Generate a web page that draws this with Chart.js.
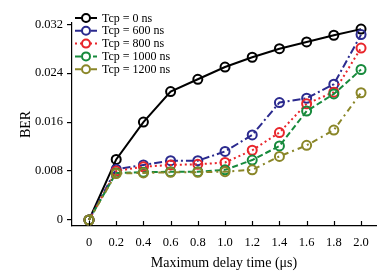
<!DOCTYPE html>
<html>
<head>
<meta charset="utf-8">
<script src="https://cdn.jsdelivr.net/npm/chart.js@4/dist/chart.umd.min.js"></script>
<style>
html,body{margin:0;padding:0;background:#fff;}
#wrap{width:390px;height:276px;position:relative;}
</style>
</head>
<body>
<div id="wrap"><canvas id="c" width="390" height="276"></canvas></div>
<script>
const delays = [0, 0.2, 0.4, 0.6, 0.8, 1.0, 1.2, 1.4, 1.6, 1.8, 2.0];
const berTcp0    = [0, 0.0099, 0.0160, 0.0210, 0.0230, 0.0250, 0.0266, 0.0280, 0.0291, 0.0302, 0.0312];
const berTcp600  = [0, 0.0083, 0.0090, 0.0097, 0.0097, 0.0112, 0.0139, 0.0192, 0.0199, 0.0222, 0.0303];
const berTcp800  = [0, 0.0080, 0.0087, 0.0090, 0.0091, 0.0094, 0.0114, 0.0143, 0.0190, 0.0209, 0.0281];
const berTcp1000 = [0, 0.0077, 0.0078, 0.0079, 0.0079, 0.0082, 0.0098, 0.0121, 0.0178, 0.0206, 0.0246];
const berTcp1200 = [0, 0.0076, 0.0077, 0.0078, 0.0078, 0.0079, 0.0082, 0.0104, 0.0122, 0.0147, 0.0208];
const seriesLabels = ['Tcp = 0 ns', 'Tcp = 600 ns', 'Tcp = 800 ns', 'Tcp = 1000 ns', 'Tcp = 1200 ns'];
const xTickValues = [0, 0.2, 0.4, 0.6, 0.8, 1.0, 1.2, 1.4, 1.6, 1.8, 2.0];
const xTickLabels = ['0', '0.2', '0.4', '0.6', '0.8', '1.0', '1.2', '1.4', '1.6', '1.8', '2.0'];
const yTickValues = [0, 0.008, 0.016, 0.024, 0.032];
const yTickLabels = ['0', '0.008', '0.016', '0.024', '0.032'];

const seriesValues = [berTcp0, berTcp600, berTcp800, berTcp1000, berTcp1200];
const colors = ['#000000', '#2b2a8e', '#e8252b', '#178a3c', '#8a8628'];
const dashes = [[], [8, 3, 2, 3], [2, 3], [6, 3], [6, 4, 2, 4]];
const FONT = '"Liberation Serif", "Times New Roman", serif';

const datasets = seriesValues.map((vals, i) => ({
  label: seriesLabels[i],
  data: delays.map((x, k) => ({x: x, y: vals[k]})),
  borderColor: colors[i],
  backgroundColor: 'rgba(0,0,0,0)',
  borderWidth: 2,
  borderDash: dashes[i],
  pointRadius: 4.5,
  pointBorderWidth: 2,
  pointBorderColor: colors[i],
  pointBackgroundColor: 'rgba(0,0,0,0)',
  pointStyle: 'circle',
  tension: 0,
  order: 5 - i
}));

const innerTicks = {
  id: 'innerTicks',
  afterDraw(chart) {
    const ctx = chart.ctx, xs = chart.scales.x, bottom = chart.chartArea.bottom;
    ctx.save();
    ctx.strokeStyle = '#000';
    ctx.lineWidth = 1.2;
    xs.ticks.forEach(t => {
      const px = Math.round(xs.getPixelForValue(t.value)) + 0.5;
      ctx.beginPath();
      ctx.moveTo(px, bottom);
      ctx.lineTo(px, bottom - 5);
      ctx.stroke();
    });
    ctx.restore();
  }
};

const lineLegend = {
  id: 'lineLegend',
  afterDraw(chart) {
    const ctx = chart.ctx;
    ctx.save();
    chart.data.datasets.forEach((ds, i) => {
      const y = 18 + i * 12.8;
      ctx.strokeStyle = ds.borderColor;
      ctx.lineWidth = 2;
      ctx.setLineDash(ds.borderDash);
      ctx.beginPath();
      ctx.moveTo(75, y);
      ctx.lineTo(97, y);
      ctx.stroke();
      ctx.setLineDash([]);
      ctx.fillStyle = '#fff';
      ctx.beginPath();
      ctx.arc(86, y, 4, 0, Math.PI * 2);
      ctx.fill();
      ctx.stroke();
      ctx.fillStyle = '#000';
      ctx.font = '12px ' + FONT;
      ctx.textBaseline = 'middle';
      ctx.textAlign = 'left';
      ctx.fillText(ds.label, 102, y + 0.5);
    });
    ctx.restore();
  }
};

new Chart(document.getElementById('c'), {
  type: 'line',
  data: { datasets: datasets },
  options: {
    responsive: false,
    animation: false,
    devicePixelRatio: 1,
    layout: { padding: { top: 23, right: 14, left: 0, bottom: 0 } },
    plugins: { legend: { display: false }, tooltip: { enabled: false } },
    scales: {
      x: {
        type: 'linear',
        min: -0.125,
        max: 2.11,
        afterBuildTicks: s => { s.ticks = xTickValues.map(v => ({value: v})); },
        afterFit: s => { s.height = 50; },
        grid: { display: false, drawTicks: false },
        border: { display: true, color: '#000', width: 1.2 },
        ticks: {
          color: '#000',
          padding: 9,
          maxRotation: 0,
          autoSkip: false,
          font: { family: FONT, size: 12.5 },
          callback: (v, idx) => xTickLabels[idx]
        },
        title: {
          display: true,
          text: 'Maximum delay time (μs)',
          color: '#000',
          font: { family: FONT, size: 14 },
          padding: { top: 4, bottom: 4 }
        }
      },
      y: {
        type: 'linear',
        min: -0.00098,
        max: 0.0322,
        afterBuildTicks: s => { s.ticks = yTickValues.map(v => ({value: v})); },
        afterFit: s => { s.width = 72; },
        grid: { display: true, drawOnChartArea: false, drawTicks: true, tickLength: 5, color: '#000', lineWidth: 1.2 },
        border: { display: true, color: '#000', width: 1.2 },
        ticks: {
          color: '#000',
          padding: 4,
          autoSkip: false,
          font: { family: FONT, size: 12.5 },
          callback: (v, idx) => yTickLabels[idx]
        },
        title: {
          display: true,
          text: 'BER',
          color: '#000',
          font: { family: FONT, size: 14 },
          padding: { top: 18, bottom: 0 }
        }
      }
    }
  },
  plugins: [innerTicks, lineLegend]
});
</script>
</body>
</html>
